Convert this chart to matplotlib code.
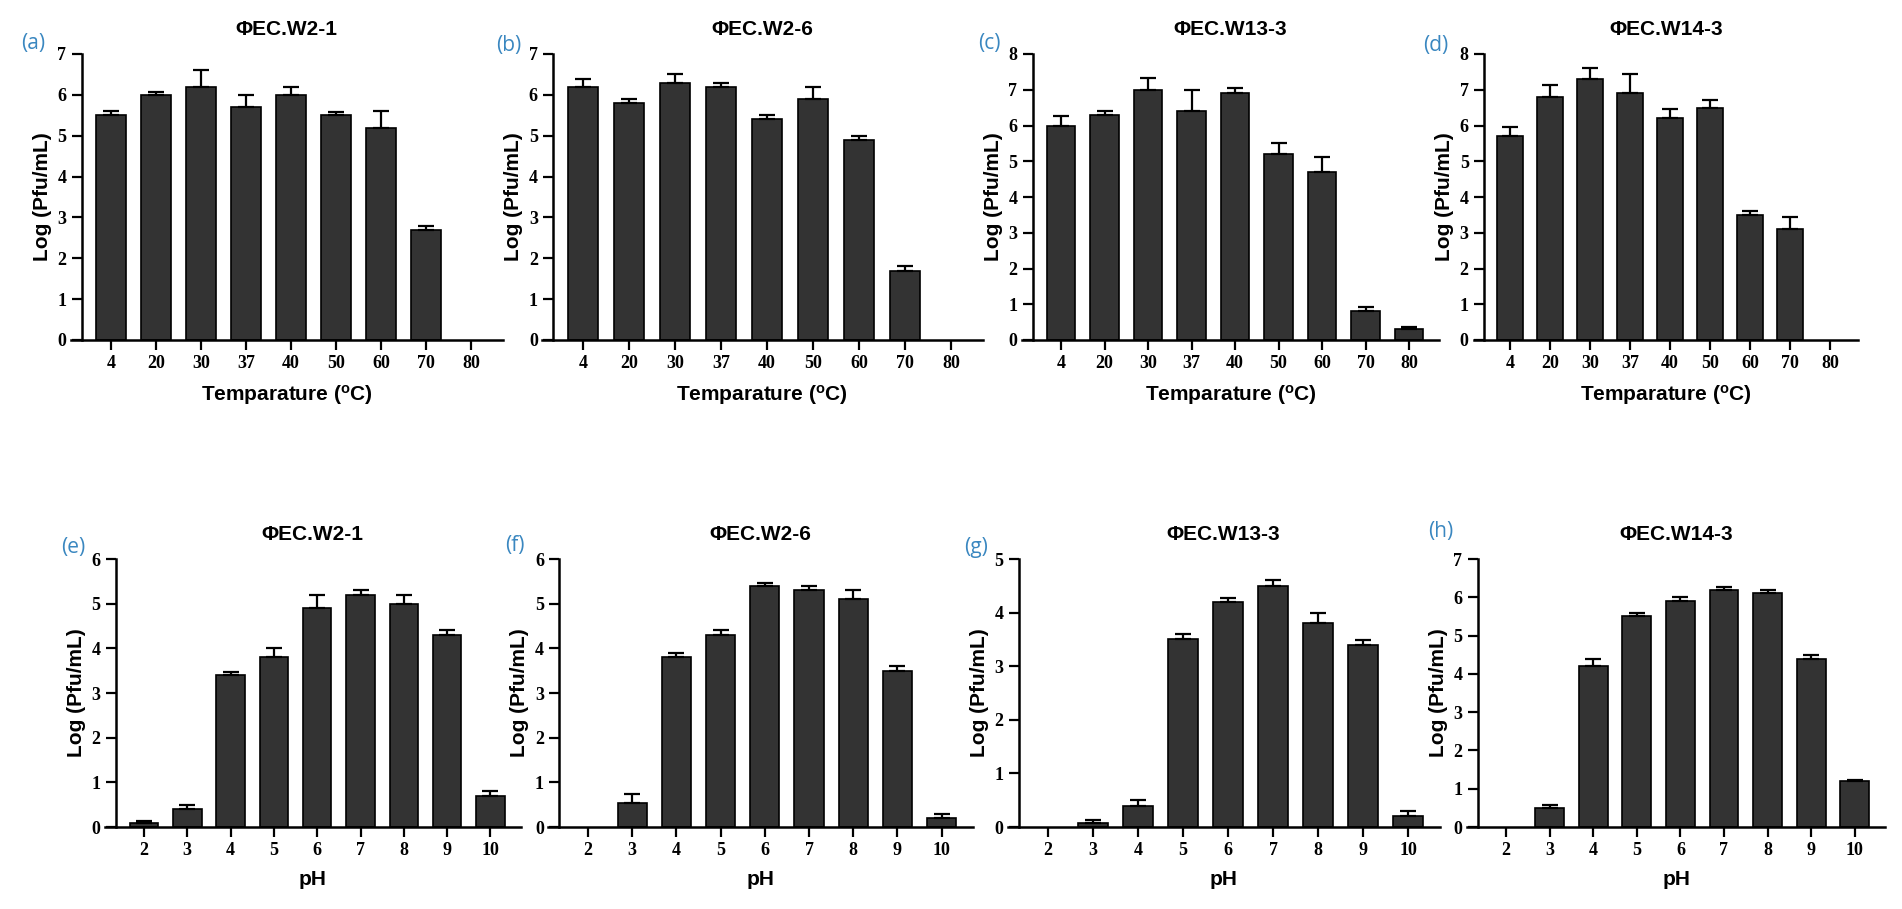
import numpy as np
import matplotlib.pyplot as plt

plt.rcParams['font.family'] = ['Liberation Sans', 'DejaVu Sans']
plt.rcParams['mathtext.fontset'] = 'custom'
plt.rcParams['mathtext.rm'] = 'Liberation Sans:bold'
plt.rcParams['mathtext.default'] = 'rm'

# categories
temp_labels = ['4', '20', '30', '37', '40', '50', '60', '70', '80']
ph_labels = ['2', '3', '4', '5', '6', '7', '8', '9', '10']

# temperature stability (log pfu/mL) and upper error
w21_temp = [5.5, 6.0, 6.2, 5.7, 6.0, 5.5, 5.2, 2.7, 0]
w21_temp_err = [0.1, 0.07, 0.4, 0.3, 0.2, 0.07, 0.4, 0.1, 0]
w26_temp = [6.2, 5.8, 6.3, 6.2, 5.4, 5.9, 4.9, 1.7, 0]
w26_temp_err = [0.2, 0.1, 0.2, 0.1, 0.1, 0.3, 0.1, 0.1, 0]
w133_temp = [6.0, 6.3, 7.0, 6.4, 6.9, 5.2, 4.7, 0.8, 0.3]
w133_temp_err = [0.27, 0.1, 0.33, 0.6, 0.15, 0.3, 0.42, 0.12, 0.05]
w143_temp = [5.7, 6.8, 7.3, 6.9, 6.2, 6.5, 3.5, 3.1, 0]
w143_temp_err = [0.25, 0.33, 0.3, 0.55, 0.25, 0.2, 0.1, 0.35, 0]

# pH stability
w21_ph = [0.08, 0.4, 3.4, 3.8, 4.9, 5.2, 5.0, 4.3, 0.7]
w21_ph_err = [0.05, 0.1, 0.07, 0.2, 0.3, 0.1, 0.2, 0.1, 0.1]
w26_ph = [0, 0.53, 3.8, 4.3, 5.4, 5.3, 5.1, 3.5, 0.2]
w26_ph_err = [0, 0.2, 0.1, 0.1, 0.07, 0.1, 0.2, 0.1, 0.1]
w133_ph = [0, 0.08, 0.4, 3.5, 4.2, 4.5, 3.8, 3.4, 0.2]
w133_ph_err = [0, 0.05, 0.1, 0.1, 0.08, 0.1, 0.2, 0.08, 0.1]
w143_ph = [0, 0.5, 4.2, 5.5, 5.9, 6.2, 6.1, 4.4, 1.2]
w143_ph_err = [0, 0.08, 0.2, 0.1, 0.1, 0.07, 0.1, 0.08, 0.03]

W, H = 1902, 909
temp_xlabel = r'Temparature ($^{o}$C)'

# (label, title, cats, vals, errs, ymax, xlabel, first tick px, spacing px, row, label pos px)
panels = [
    ('(a)', 'ΦEC.W2-1', temp_labels, w21_temp, w21_temp_err, 7, temp_xlabel, 111, 45.0, 0, (33, 43)),
    ('(b)', 'ΦEC.W2-6', temp_labels, w26_temp, w26_temp_err, 7, temp_xlabel, 583, 46.0, 0, (509, 45)),
    ('(c)', 'ΦEC.W13-3', temp_labels, w133_temp, w133_temp_err, 8, temp_xlabel, 1061, 43.5, 0, (989, 43)),
    ('(d)', 'ΦEC.W14-3', temp_labels, w143_temp, w143_temp_err, 8, temp_xlabel, 1510, 40.0, 0, (1436, 45)),
    ('(e)', 'ΦEC.W2-1', ph_labels, w21_ph, w21_ph_err, 6, 'pH', 144, 43.3, 1, (73, 547)),
    ('(f)', 'ΦEC.W2-6', ph_labels, w26_ph, w26_ph_err, 6, 'pH', 588, 44.2, 1, (515, 545)),
    ('(g)', 'ΦEC.W13-3', ph_labels, w133_ph, w133_ph_err, 5, 'pH', 1048, 45.0, 1, (976, 548)),
    ('(h)', 'ΦEC.W14-3', ph_labels, w143_ph, w143_ph_err, 7, 'pH', 1506, 43.6, 1, (1441, 532)),
]
rows = {0: (54, 340), 1: (559, 827)}  # top / zero line in px

fig = plt.figure(figsize=(W / 100, H / 100), dpi=100)

for lab, title, cats, vals, errs, ymax, xlab, t0, sp, row, (lx, ly) in panels:
    top, zero = rows[row]
    left = t0 - 0.9 * sp
    ax = fig.add_axes([left / W, 1 - zero / H, 9.6 * sp / W, (zero - top) / H])
    x = np.arange(len(cats))
    vals = np.array(vals); errs = np.array(errs)
    lw = np.where(vals > 0, 1.2, 0)  # no outline for empty bars
    ax.bar(x, vals, width=0.66, color='#333333', edgecolor='black', linewidth=lw, zorder=2)
    m = errs > 0
    ax.errorbar(x[m], vals[m], yerr=[np.zeros(m.sum()), errs[m]], fmt='none',
                ecolor='black', elinewidth=1.6, capsize=6, capthick=1.6, zorder=3)
    ax.set_xlim(-0.9, 8.7)
    ax.set_ylim(0, ymax)
    ax.spines['left'].set_position(('data', -0.65))
    ax.spines['left'].set_bounds(0, ymax)
    for s in ('top', 'right'):
        ax.spines[s].set_visible(False)
    for s in ('left', 'bottom'):
        ax.spines[s].set_linewidth(1.8)
    ax.set_xticks(x, cats)
    ax.set_yticks(range(ymax + 1))
    ax.tick_params(direction='out', length=7, width=1.6, pad=4)
    for t in ax.get_xticklabels() + ax.get_yticklabels():
        t.set_fontfamily('Liberation Serif')
        t.set_fontweight('bold')
        t.set_fontsize(13)
    ax.set_title(title, fontsize=15, fontweight='bold', pad=14)
    ax.set_ylabel('Log (Pfu/mL)', fontsize=15, fontweight='bold', labelpad=4)
    ax.set_xlabel(xlab, fontsize=15, fontweight='bold', labelpad=8)
    fig.text(lx / W, 1 - ly / H, lab, color='#3A87C0', fontsize=15,
             fontfamily='Open Sans', ha='center', va='center')

fig.savefig('out.png', dpi=100)
